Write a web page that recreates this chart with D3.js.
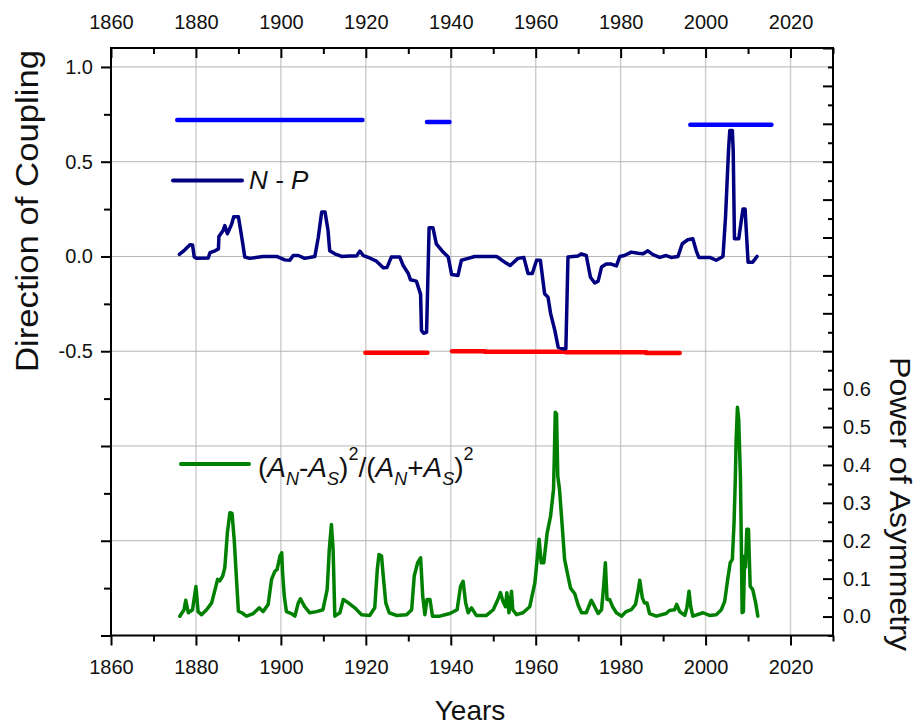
<!DOCTYPE html>
<html>
<head>
<meta charset="utf-8">
<script src="https://cdn.jsdelivr.net/npm/d3@7"></script>
<style>
  html, body { margin: 0; padding: 0; background: #fff; }
  svg { display: block; font-family: "Liberation Sans", Arial, sans-serif; }
</style>
</head>
<body>
<svg id="chart" width="918" height="725"></svg>
<script>
// N - P direction of coupling, [year, value]
const couplingSeries = [
  [1876.1,0.011],[1877.4,0.035],[1878.6,0.062],[1879.2,0.06],[1879.6,-0.003],[1880.2,-0.01],
  [1882.9,-0.008],[1883.3,0.02],[1884.5,0.03],[1885.3,0.04],[1885.4,0.105],[1886.4,0.137],
  [1886.8,0.163],[1887.4,0.12],[1888.4,0.17],[1888.9,0.21],[1890.0,0.21],[1890.8,0.10],
  [1891.5,-0.003],[1892.7,-0.01],[1895.8,0.0],[1899.0,0.0],[1900.9,-0.018],[1902.1,-0.02],
  [1902.9,0.005],[1904.1,0.005],[1905.6,-0.01],[1908.0,0.0],[1908.8,0.10],[1909.6,0.234],
  [1910.4,0.234],[1911.1,0.137],[1911.5,0.03],[1912.7,0.014],[1914.3,0.0],[1916.2,0.003],
  [1917.8,0.003],[1918.6,0.028],[1919.4,0.005],[1920.9,-0.008],[1922.5,-0.025],[1924.1,-0.06],
  [1925.0,-0.058],[1926.0,-0.003],[1928.0,-0.003],[1928.8,-0.048],[1930.0,-0.09],[1930.5,-0.123],
  [1931.9,-0.13],[1932.9,-0.2],[1933.1,-0.39],[1933.6,-0.405],[1934.3,-0.40],[1934.9,0.152],
  [1935.8,0.152],[1936.6,0.067],[1938.2,0.023],[1939.4,-0.003],[1940.2,-0.095],[1941.7,-0.10],
  [1942.5,-0.02],[1944.1,-0.01],[1945.6,0.0],[1950.8,0.0],[1952.7,-0.03],[1954.0,-0.048],
  [1955.8,-0.01],[1957.2,-0.005],[1958.2,-0.09],[1959.2,-0.09],[1960.2,-0.02],[1961.1,-0.02],
  [1962.1,-0.197],[1962.9,-0.215],[1963.5,-0.30],[1964.5,-0.39],[1965.3,-0.48],[1966.4,-0.487],
  [1967.1,-0.487],[1967.6,-0.003],[1970.0,0.003],[1970.7,0.014],[1971.9,0.005],[1972.9,-0.11],
  [1973.9,-0.14],[1974.7,-0.13],[1975.5,-0.056],[1976.6,-0.04],[1977.8,-0.04],[1979.0,-0.05],
  [1979.8,0.0],[1980.9,0.005],[1982.5,0.023],[1984.1,0.017],[1985.3,0.014],[1986.4,0.03],
  [1987.6,0.01],[1989.2,-0.005],[1990.7,0.005],[1991.9,-0.005],[1993.5,0.0],[1994.5,0.067],
  [1995.8,0.088],[1997.0,0.093],[1997.8,0.03],[1998.4,-0.005],[2001.0,-0.005],[2002.5,-0.02],
  [2004.1,0.0],[2004.7,0.21],[2005.4,0.56],[2005.7,0.665],[2006.3,0.665],[2006.5,0.56],
  [2006.8,0.093],[2007.8,0.093],[2008.8,0.25],[2009.3,0.25],[2010.0,-0.03],[2011.1,-0.03],
  [2012.1,0.0]
];

// (A_N - A_S)^2 / (A_N + A_S)^2 power of asymmetry, [year, value]
const asymmetrySeries = [
  [1876.2,0.001],[1877.2,0.018],[1877.6,0.043],[1878.2,0.01],[1879.2,0.018],[1880.0,0.079],
  [1880.5,0.013],[1881.3,0.005],[1882.5,0.018],[1883.7,0.036],[1884.5,0.071],[1885.1,0.098],
  [1885.6,0.094],[1886.3,0.107],[1886.8,0.129],[1887.4,0.221],[1888.0,0.274],[1888.5,0.272],
  [1889.0,0.204],[1889.6,0.089],[1890.0,0.014],[1890.8,0.01],[1891.9,0.001],[1893.5,0.008],
  [1894.9,0.023],[1895.8,0.013],[1897.0,0.032],[1897.8,0.098],[1898.6,0.12],[1899.1,0.124],
  [1899.8,0.16],[1900.2,0.168],[1900.4,0.115],[1900.8,0.054],[1901.3,0.013],[1902.5,0.008],
  [1903.3,0.001],[1904.1,0.036],[1904.6,0.047],[1905.6,0.026],[1906.8,0.01],[1908.4,0.013],
  [1909.9,0.018],[1910.9,0.071],[1911.4,0.177],[1911.9,0.243],[1912.3,0.177],[1912.7,0.001],
  [1913.9,0.01],[1914.7,0.045],[1915.9,0.036],[1917.4,0.023],[1919.0,0.005],[1920.9,0.003],
  [1922.1,0.023],[1922.7,0.124],[1923.1,0.164],[1923.7,0.16],[1924.1,0.107],[1924.7,0.036],
  [1925.5,0.01],[1927.2,0.003],[1929.6,0.005],[1930.8,0.018],[1931.4,0.107],[1932.2,0.142],
  [1932.9,0.155],[1933.4,0.054],[1933.9,0.005],[1934.4,0.045],[1935.1,0.045],[1935.7,0.001],
  [1937.4,0.001],[1939.8,0.008],[1941.5,0.018],[1942.3,0.08],[1942.9,0.093],[1943.5,0.036],
  [1944.1,0.01],[1944.9,0.023],[1946.0,0.003],[1948.4,0.003],[1950.0,0.018],[1951.1,0.045],
  [1951.7,0.063],[1952.3,0.04],[1952.9,0.026],[1953.2,0.063],[1953.7,0.01],[1954.3,0.067],
  [1954.6,0.018],[1955.5,0.005],[1957.0,0.01],[1958.6,0.026],[1959.8,0.089],[1960.8,0.204],
  [1961.3,0.142],[1961.9,0.142],[1962.7,0.221],[1963.5,0.265],[1964.2,0.336],[1964.4,0.43],
  [1964.6,0.539],[1964.9,0.535],[1965.2,0.37],[1965.6,0.336],[1966.3,0.23],[1966.8,0.151],
  [1967.6,0.107],[1968.2,0.075],[1969.2,0.06],[1970.0,0.03],[1970.8,0.01],[1971.9,0.01],
  [1973.1,0.043],[1973.9,0.026],[1974.7,0.008],[1975.5,0.018],[1976.0,0.08],[1976.4,0.142],
  [1976.8,0.045],[1977.4,0.045],[1978.1,0.026],[1979.0,0.01],[1980.2,0.001],[1981.3,0.013],
  [1982.5,0.018],[1983.5,0.032],[1984.1,0.067],[1984.5,0.096],[1985.1,0.05],[1985.6,0.036],
  [1986.2,0.036],[1986.8,0.008],[1988.4,0.001],[1990.7,0.008],[1991.5,0.016],[1992.7,0.018],
  [1993.2,0.032],[1993.9,0.013],[1995.1,0.003],[1995.6,0.023],[1996.1,0.067],[1996.5,0.026],
  [1997.0,0.001],[1999.4,0.01],[2000.9,0.003],[2002.5,0.005],[2003.7,0.018],[2004.5,0.04],
  [2005.2,0.098],[2005.8,0.142],[2006.3,0.151],[2006.7,0.248],[2007.0,0.362],[2007.2,0.468],
  [2007.5,0.552],[2007.8,0.52],[2008.2,0.37],[2008.4,0.204],[2008.6,0.01],[2008.9,0.013],
  [2009.2,0.16],[2009.4,0.13],[2009.7,0.23],[2010.1,0.23],[2010.5,0.08],[2011.1,0.071],
  [2011.8,0.036],[2012.3,0.001]
];

// Intervals of positive (N leads) and negative (P leads) coupling: [start, end, level]
const positiveIntervals = [
  [1875.6, 1919.2, 0.72],
  [1934.4, 1939.7, 0.71],
  [1996.4, 2015.5, 0.695]
];
const negativeIntervals = [
  [1919.9, 1934.5, -0.508],
  [1940.3, 1948.0, -0.500],
  [1948.0, 1967.0, -0.503],
  [1967.0, 1986.0, -0.506],
  [1986.0, 1993.9, -0.510]
];

// Axis ticks
const yearMajorTicks = [1860, 1880, 1900, 1920, 1940, 1960, 1980, 2000, 2020];
const yearMinorTicks = [1870, 1890, 1910, 1930, 1950, 1970, 1990, 2010, 2030];
const couplingMajorTicks = [1.0, 0.5, 0.0, -0.5, -1.0, -1.5, -2.0];
const couplingLabelTicks = [1.0, 0.5, 0.0, -0.5];
const couplingMinorTicks = [0.75, 0.25, -0.25, -0.75, -1.25, -1.75];
const asymmetryMajorTicks = [0.0, 0.1, 0.2, 0.3, 0.4, 0.5, 0.6, 0.7, 0.8, 0.9, 1.0, 1.1, 1.2, 1.3, 1.4, 1.5];
const asymmetryLabelTicks = [0.0, 0.1, 0.2, 0.3, 0.4, 0.5, 0.6];
const asymmetryMinorTicks = [-0.05, 0.05, 0.15, 0.25, 0.35, 0.45, 0.55, 0.65, 0.75, 0.85, 0.95, 1.05, 1.15, 1.25, 1.35, 1.45];

const svg = d3.select("#chart");
const plotLeft = 111, plotRight = 833, plotTop = 48, plotBottom = 635.5;

const x = d3.scaleLinear().domain([1860, 2030]).range([plotLeft, plotRight]);
const yL = d3.scaleLinear().domain([-2.0, 1.1]).range([plotBottom, plotTop]);
const yR = d3.scaleLinear().domain([-0.05, 1.5]).range([plotBottom, plotTop]);

// one decimal, with a plain hyphen for negatives
const fmt1 = d => d3.format(".1f")(d).replace("\u2212", "-");
const tickFont = 20;

// Grid
const grid = svg.append("g");
grid.selectAll("line.v").data(yearMajorTicks.filter(d => d > 1860)).join("line")
  .attr("x1", d => x(d)).attr("x2", d => x(d))
  .attr("y1", plotTop).attr("y2", plotBottom)
  .attr("stroke", "#cfcfcf").attr("stroke-width", 1.5);
grid.selectAll("line.h").data(couplingMajorTicks.filter(d => d > -2 && d < 1.1)).join("line")
  .attr("x1", plotLeft).attr("x2", plotRight)
  .attr("y1", d => yL(d)).attr("y2", d => yL(d))
  .attr("stroke", "#b4b4b4").attr("stroke-width", 1);

// Coupling intervals
const segs = svg.append("g").attr("stroke-linecap", "round");
segs.selectAll("line.pos").data(positiveIntervals).join("line")
  .attr("x1", d => x(d[0])).attr("x2", d => x(d[1]))
  .attr("y1", d => yL(d[2])).attr("y2", d => yL(d[2]))
  .attr("stroke", "#0000ff").attr("stroke-width", 4.5);
segs.selectAll("line.neg").data(negativeIntervals).join("line")
  .attr("x1", d => x(d[0])).attr("x2", d => x(d[1]))
  .attr("y1", d => yL(d[2])).attr("y2", d => yL(d[2]))
  .attr("stroke", "#ff0000").attr("stroke-width", 4.5);

// Series lines
const couplingLine = d3.line().x(d => x(d[0])).y(d => yL(d[1]));
const asymmetryLine = d3.line().x(d => x(d[0])).y(d => yR(d[1]));

svg.append("path").datum(asymmetrySeries)
  .attr("d", asymmetryLine)
  .attr("fill", "none").attr("stroke", "#008000").attr("stroke-width", 3.5)
  .attr("stroke-linejoin", "round").attr("stroke-linecap", "round");

svg.append("path").datum(couplingSeries)
  .attr("d", couplingLine)
  .attr("fill", "none").attr("stroke", "#000080").attr("stroke-width", 3.5)
  .attr("stroke-linejoin", "round").attr("stroke-linecap", "round");

// Axes
function styleAxis(g) {
  g.select(".domain").remove();
  g.selectAll(".tick line").attr("stroke", "#000").attr("stroke-width", 2);
  g.selectAll(".tick text").attr("fill", "#111").attr("font-size", tickFont)
    .attr("font-family", "'Liberation Sans', Arial, sans-serif");
}

// bottom
svg.append("g").attr("transform", `translate(0,${plotBottom})`)
  .call(d3.axisBottom(x).tickValues(yearMajorTicks).tickFormat(d3.format("d"))
    .tickSizeInner(10).tickSizeOuter(0).tickPadding(14))
  .call(styleAxis);
svg.append("g").attr("transform", `translate(0,${plotBottom})`)
  .call(d3.axisBottom(x).tickValues(yearMinorTicks).tickFormat("").tickSizeInner(6).tickSizeOuter(0))
  .call(styleAxis);

// top
svg.append("g").attr("transform", `translate(0,${plotTop})`)
  .call(d3.axisTop(x).tickValues(yearMajorTicks).tickFormat(d3.format("d"))
    .tickSizeInner(-10).tickSizeOuter(0).tickPadding(19))
  .call(styleAxis);
svg.append("g").attr("transform", `translate(0,${plotTop})`)
  .call(d3.axisTop(x).tickValues(yearMinorTicks).tickFormat("").tickSizeInner(-6).tickSizeOuter(0))
  .call(styleAxis);

// left
svg.append("g").attr("transform", `translate(${plotLeft},0)`)
  .call(d3.axisLeft(yL).tickValues(couplingMajorTicks)
    .tickFormat(d => couplingLabelTicks.includes(d) ? fmt1(d) : "")
    .tickSizeInner(10).tickSizeOuter(0).tickPadding(8))
  .call(styleAxis);
svg.append("g").attr("transform", `translate(${plotLeft},0)`)
  .call(d3.axisLeft(yL).tickValues(couplingMinorTicks).tickFormat("").tickSizeInner(7).tickSizeOuter(0))
  .call(styleAxis);

// right
svg.append("g").attr("transform", `translate(${plotRight},0)`)
  .call(d3.axisRight(yR).tickValues(asymmetryMajorTicks)
    .tickFormat(d => asymmetryLabelTicks.some(v => Math.abs(v - d) < 1e-9) ? fmt1(d) : "")
    .tickSizeInner(-10).tickSizeOuter(0).tickPadding(10))
  .call(styleAxis);
svg.append("g").attr("transform", `translate(${plotRight},0)`)
  .call(d3.axisRight(yR).tickValues(asymmetryMinorTicks).tickFormat("").tickSizeInner(-5).tickSizeOuter(0))
  .call(styleAxis);

// Frame
svg.append("rect")
  .attr("x", plotLeft).attr("y", plotTop)
  .attr("width", plotRight - plotLeft).attr("height", plotBottom - plotTop)
  .attr("fill", "none").attr("stroke", "#000").attr("stroke-width", 2);

// Axis titles
svg.append("text")
  .attr("transform", "translate(38,211) rotate(-90)")
  .attr("text-anchor", "middle").attr("font-size", 32).attr("fill", "#111")
  .attr("textLength", 322).attr("lengthAdjust", "spacingAndGlyphs")
  .text("Direction of Coupling");

svg.append("text")
  .attr("transform", "translate(890,504) rotate(90)")
  .attr("text-anchor", "middle").attr("font-size", 29).attr("fill", "#111")
  .attr("textLength", 294).attr("lengthAdjust", "spacingAndGlyphs")
  .text("Power of Asymmetry");

svg.append("text")
  .attr("x", 470).attr("y", 720)
  .attr("text-anchor", "middle").attr("font-size", 28).attr("fill", "#111")
  .text("Years");

// Legends
svg.append("line")
  .attr("x1", 173).attr("x2", 242).attr("y1", 180.5).attr("y2", 180.5)
  .attr("stroke", "#000080").attr("stroke-width", 4).attr("stroke-linecap", "round");
svg.append("text")
  .attr("x", 249).attr("y", 189).attr("font-size", 26).attr("font-style", "italic").attr("fill", "#111")
  .text("N - P");

svg.append("line")
  .attr("x1", 181).attr("x2", 249).attr("y1", 464).attr("y2", 464)
  .attr("stroke", "#008000").attr("stroke-width", 4).attr("stroke-linecap", "round");

const legendText = svg.append("text")
  .attr("x", 258).attr("y", 477).attr("font-size", 28).attr("fill", "#111");
const legendParts = [
  { t: "(", italic: false, small: false, shift: 0 },
  { t: "A", italic: true, small: false, shift: 0 },
  { t: "N", italic: true, small: true, shift: 8 },
  { t: "-", italic: false, small: false, shift: 0 },
  { t: "A", italic: true, small: false, shift: 0 },
  { t: "S", italic: true, small: true, shift: 8 },
  { t: ")", italic: false, small: false, shift: 0 },
  { t: "2", italic: false, small: true, shift: -17 },
  { t: "/(", italic: false, small: false, shift: 0 },
  { t: "A", italic: true, small: false, shift: 0 },
  { t: "N", italic: true, small: true, shift: 8 },
  { t: "+", italic: false, small: false, shift: 0 },
  { t: "A", italic: true, small: false, shift: 0 },
  { t: "S", italic: true, small: true, shift: 8 },
  { t: ")", italic: false, small: false, shift: 0 },
  { t: "2", italic: false, small: true, shift: -17 }
];
let prevShift = 0;
legendParts.forEach(p => {
  legendText.append("tspan")
    .attr("dy", p.shift - prevShift)
    .attr("font-style", p.italic ? "italic" : "normal")
    .attr("font-size", p.small ? 18 : 28)
    .text(p.t);
  prevShift = p.shift;
});
</script>
</body>
</html>
